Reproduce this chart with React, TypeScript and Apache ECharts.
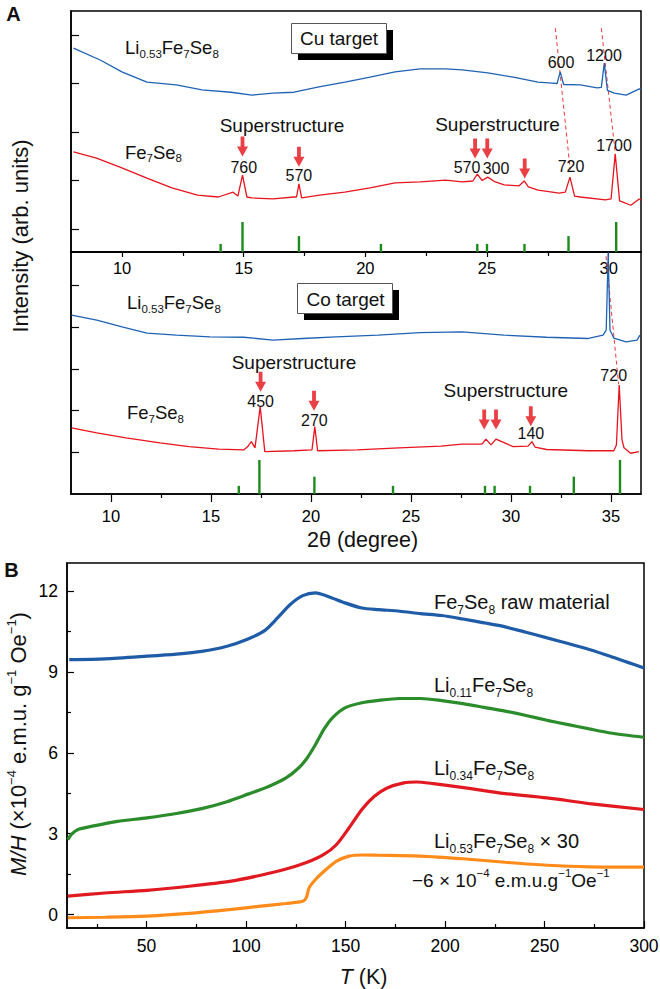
import React, { useEffect, useRef } from "react";
import * as echarts from "echarts";

// ---------- Panel A, Cu target: [2θ (deg), intensity (arb., stacked)] ----------
const cuLiCurve = [
  [8.0, 3.73], [9.12, 3.48], [9.99, 3.24], [11.02, 3.03], [12.23, 2.97], [13.28, 2.87],
  [14.47, 2.82], [15.34, 2.76], [16.2, 2.8], [17.07, 2.82], [18.09, 2.93], [19.16, 3.03],
  [20.19, 3.13], [21.22, 3.24], [22.25, 3.3], [23.3, 3.3], [23.98, 3.28], [25.03, 3.22],
  [26.08, 3.13], [27.1, 3.03], [27.68, 3.01], [27.88, 3.0], [28.01, 3.24], [28.15, 2.98],
  [28.84, 2.97], [29.53, 2.91], [29.7, 2.92], [29.82, 3.42], [29.95, 2.86], [30.23, 2.8],
  [30.72, 2.76], [31.26, 2.89], [31.33, 2.88],
];
const cuFeCurve = [
  [8.0, 1.59], [8.95, 1.46], [9.99, 1.26], [11.02, 1.05], [12.05, 0.85], [13.1, 0.7],
  [13.96, 0.66], [14.56, 0.76], [14.76, 0.68], [14.95, 1.11], [15.13, 0.66], [15.34, 0.64],
  [16.2, 0.62], [17.07, 0.66], [17.17, 0.66], [17.27, 0.93], [17.38, 0.64], [18.12, 0.7],
  [19.15, 0.76], [20.19, 0.85], [21.22, 0.95], [22.25, 0.97], [23.3, 1.01], [23.98, 0.97],
  [24.42, 0.99], [24.6, 1.13], [24.8, 1.0], [25.03, 1.07], [25.34, 0.97], [25.71, 0.91],
  [26.32, 0.89], [26.53, 0.99], [26.7, 0.87], [27.1, 0.8], [27.97, 0.74], [28.22, 0.76],
  [28.41, 1.07], [28.6, 0.68], [28.84, 0.66], [29.86, 0.6], [30.1, 0.62], [30.27, 1.55],
  [30.45, 0.58], [30.56, 0.56], [30.91, 0.49], [31.26, 0.62], [31.33, 0.6],
];
const cuStickPos = [14.05, 14.95, 17.27, 20.64, 24.6, 25.0, 26.54, 28.35, 30.31];
const cuStickInt = [27, 100, 53, 27, 27, 27, 27, 53, 100];
const cuArrows = [[14.95, 1.7], [17.27, 1.49], [24.51, 1.66], [25.01, 1.66], [26.55, 1.25]];
const cuDash1 = [[27.81, 4.14], [28.42, 1.22]];
const cuDash2 = [[29.7, 4.14], [30.27, 1.57]];
const cuTicks = [10, 15, 20, 25, 30];
const cuMinor = [12.5, 17.5, 22.5, 27.5];

// ---------- Panel A, Co target ----------
const coLiCurve = [
  [8.03, 3.29], [9.29, 3.17], [10.55, 3.01], [11.8, 2.86], [13.28, 2.81], [14.95, 2.77],
  [16.64, 2.76], [18.1, 2.69], [19.58, 2.73], [21.25, 2.77], [23.35, 2.81], [25.45, 2.87],
  [27.55, 2.89], [29.65, 2.81], [31.78, 2.76], [33.88, 2.73], [34.6, 2.81], [34.76, 2.93],
  [34.86, 4.8], [34.95, 2.93], [35.14, 2.74], [35.75, 2.65], [36.3, 2.69], [36.45, 2.81],
];
const coFeCurve = [
  [8.03, 0.58], [9.29, 0.46], [10.75, 0.34], [12.45, 0.22], [13.9, 0.13], [15.38, 0.07],
  [16.64, 0.05], [16.85, 0.14], [17.02, 0.25], [17.2, 0.1], [17.46, 1.09], [17.69, 0.01],
  [19.15, 0.03], [20.05, 0.05], [20.19, 0.61], [20.33, 0.03], [22.3, 0.05], [24.4, 0.1],
  [26.5, 0.14], [27.55, 0.19], [28.55, 0.19], [28.75, 0.31], [29.0, 0.17], [29.25, 0.31],
  [30.1, 0.13], [30.85, 0.14], [31.05, 0.25], [31.2, 0.12], [31.78, 0.06], [33.88, 0.03],
  [35.14, 0.03], [35.27, 0.17], [35.41, 1.61], [35.55, 0.29], [35.65, 0.1], [35.98, -0.03],
  [36.4, 0.01],
];
const coStickPos = [16.39, 17.42, 20.17, 24.1, 28.7, 29.18, 30.95, 33.14, 35.45];
const coStickInt = [24, 100, 51, 24, 24, 24, 24, 51, 100];
const coArrows = [[17.48, 1.69], [20.15, 1.23], [28.66, 0.78], [29.25, 0.78], [30.99, 0.86]];
const coDash = [[34.75, 4.71], [35.38, 1.63]];
const coTicks = [10, 15, 20, 25, 30, 35];
const coMinor = [12.5, 17.5, 22.5, 27.5, 32.5];

// ---------- Panel B: [T (K), M/H (1e-4 emu g^-1 Oe^-1)] ----------
const feRaw = [
  [11.1, 9.46], [29.1, 9.49], [50.2, 9.59], [65, 9.67], [77.7, 9.77], [90.4, 9.96],
  [101, 10.23], [109.5, 10.55], [115.8, 11.01], [122.2, 11.51], [128.5, 11.84], [134.9, 11.94],
  [141.2, 11.81], [149.7, 11.57], [158.2, 11.38], [166.6, 11.32], [177.2, 11.26], [187.8, 11.17],
  [198.4, 11.1], [209, 10.97], [219.6, 10.83], [230.2, 10.68], [240.7, 10.48], [251.3, 10.27],
  [261.9, 10.06], [272.5, 9.84], [283, 9.59], [291.5, 9.37], [300, 9.15],
];
const li011 = [
  [10.4, 2.78], [12.1, 2.97], [15.3, 3.15], [22.7, 3.28], [35.4, 3.46], [50.2, 3.59],
  [65, 3.75], [77.7, 3.93], [90.4, 4.19], [101, 4.47], [111.6, 4.76], [120.1, 5.07],
  [126.4, 5.44], [130.7, 5.81], [134.9, 6.31], [139.1, 6.87], [143.4, 7.3], [149.7, 7.67],
  [158.2, 7.86], [166.6, 7.95], [177.2, 8.02], [187.8, 8.02], [198.4, 7.94], [209, 7.83],
  [219.6, 7.69], [230.2, 7.55], [240.7, 7.39], [251.3, 7.21], [261.9, 7.05], [272.5, 6.89],
  [283, 6.74], [300, 6.58],
];
const li034 = [
  [10.4, 0.68], [29.1, 0.8], [50.2, 0.9], [71.4, 1.05], [92.6, 1.24], [107.4, 1.46],
  [120.1, 1.69], [130.7, 1.94], [139.1, 2.23], [145.5, 2.6], [151.8, 3.22], [158.2, 3.9],
  [164.5, 4.39], [170.9, 4.7], [179.3, 4.89], [185.7, 4.92], [194.1, 4.86], [204.7, 4.76],
  [219.6, 4.6], [230.2, 4.49], [251.3, 4.33], [272.5, 4.12], [300, 3.9],
];
const li053 = [
  [10.4, -0.12], [29.1, -0.1], [50.2, -0.06], [71.4, 0.04], [92.6, 0.19], [107.4, 0.31],
  [120.1, 0.41], [128.5, 0.49], [130.2, 0.62], [131.7, 0.99], [134.9, 1.3], [140.2, 1.67],
  [145.5, 1.98], [151.8, 2.17], [158.2, 2.21], [166.6, 2.2], [187.8, 2.17], [209, 2.07],
  [230.2, 1.94], [251.3, 1.83], [272.5, 1.77], [300, 1.76],
];
const bXTicks = [50, 100, 150, 200, 250, 300];
const bXMinor = [25, 75, 125, 175, 225, 275];
const bYTicks = [0, 3, 6, 9, 12];
const bYMinor = [1.5, 4.5, 7.5, 10.5];
const stackTicks = [0, 1, 2, 3, 4];

const FONT = "Arial, 'Liberation Sans', Helvetica, sans-serif";
const BLACK = "#111";
const BLUE_A = "#1f62b4";
const RED_A = "#e8141e";
const GREEN = "#1d8a1d";
const ARROW = "path://M3.6,0 L7.4,0 L7.4,10 L11,10 L5.5,20 L0,10 L3.6,10 Z";

function rich(main: number, sub: number, lh: number) {
  const base = { fontFamily: FONT, fill: BLACK, color: BLACK };
  return {
    n: { ...base, fontSize: main, lineHeight: lh },
    i: { ...base, fontSize: main, lineHeight: lh, fontStyle: "italic" },
    b: { ...base, fontSize: sub, lineHeight: sub, verticalAlign: "bottom" },
    p: { ...base, fontSize: sub, lineHeight: sub, verticalAlign: "top" },
  };
}

function txt(x: number, y: number, text: string, extra: any = {}) {
  return {
    type: "text", x, y, silent: true, z: 100,
    style: { text, fontSize: 19, fontFamily: FONT, fill: BLACK, align: "center", verticalAlign: "middle", ...extra },
  };
}

function chem(x: number, y: number, text: string, main: number, sub: number, lh: number, extra: any = {}) {
  return {
    type: "text", x, y, silent: true, z: 100,
    style: {
      text, rich: rich(main, sub, lh), fontSize: main, fontFamily: FONT, fill: BLACK,
      align: "left", verticalAlign: "middle", ...extra,
    },
  };
}

const LI053 = "{n|Li}{b|0.53}{n|Fe}{b|7}{n|Se}{b|8}";
const FE78 = "{n|Fe}{b|7}{n|Se}{b|8}";

const tickStyle = { color: "#000", width: 1.2 };
const labelBase = { color: "#000", fontFamily: FONT };

function hiddenAxis(gridIndex: number, min: number, max: number) {
  return { type: "value", gridIndex, min, max, show: false, splitLine: { show: false }, axisLine: { onZero: false } };
}

function tickAxis(gridIndex: number, min: number, max: number, ticks: number[], len: number, inside: boolean, labels: any, line: boolean) {
  return {
    type: "value", gridIndex, min, max,
    axisLine: { show: line, onZero: false, lineStyle: { color: "#000", width: 1.5 } },
    axisTick: { show: true, inside, length: len, customValues: ticks, lineStyle: tickStyle },
    axisLabel: labels ? { show: true, customValues: labels.values, margin: labels.margin, fontSize: labels.size, ...labelBase } : { show: false },
    splitLine: { show: false },
    minorTick: { show: false },
  };
}

function sticks(pos: number[], ints: number[]) {
  return pos.map((p, i) => [p, ints[i]]);
}

const CU_MIN = 7.9, CU_MAX = 31.33, CO_MIN = 8, CO_MAX = 36.5;

const gridBox = { show: true, borderColor: "#000", borderWidth: 1.5, backgroundColor: "transparent" };
const grids = [
  { left: 71, top: 11, width: 570, height: 241, ...gridBox },
  { left: 71, top: 222, width: 570, height: 30 },
  { left: 71, top: 252, width: 570, height: 242, ...gridBox },
  { left: 71, top: 460, width: 570, height: 34 },
  { left: 67, top: 563, width: 577, height: 365, ...gridBox },
  { left: 71, top: 11, width: 570, height: 241 },
  { left: 71, top: 252, width: 570, height: 242 },
  { left: 67, top: 563, width: 577, height: 365 },
].map((g) => ({ ...g, containLabel: false, outerBoundsMode: "none" }));

const bLine = (data: number[][], color: string) => ({
  type: "line", xAxisIndex: 4, yAxisIndex: 4, data, symbol: "none",
  smooth: 0.25, lineStyle: { color, width: 3.2 },
});

const option: any = {
  animation: false,
  backgroundColor: "#fff",
  grid: grids,
  xAxis: [
    tickAxis(0, CU_MIN, CU_MAX, cuTicks, 5, false, { values: cuTicks, margin: 7, size: 16.5 }, true),
    hiddenAxis(1, CU_MIN, CU_MAX),
    tickAxis(2, CO_MIN, CO_MAX, coTicks, 8, false, { values: coTicks, margin: 13, size: 16.5 }, true),
    hiddenAxis(3, CO_MIN, CO_MAX),
    tickAxis(4, 10, 300, bXTicks, 7, true, { values: bXTicks, margin: 9, size: 17.5 }, true),
    tickAxis(5, CU_MIN, CU_MAX, cuMinor, 4, false, null, false),
    tickAxis(6, CO_MIN, CO_MAX, coMinor, 4, false, null, false),
    tickAxis(7, 10, 300, bXMinor, 4, true, null, false),
  ],
  yAxis: [
    tickAxis(0, -0.474, 4.495, stackTicks, 8, true, null, true),
    hiddenAxis(1, 0, 100),
    tickAxis(2, -1.01, 4.81, stackTicks, 8, true, null, true),
    hiddenAxis(3, 0, 100),
    tickAxis(4, -0.5, 13.05, bYTicks, 7, true, { values: bYTicks, margin: 9, size: 17.5 }, true),
    hiddenAxis(5, 0, 1),
    hiddenAxis(6, 0, 1),
    tickAxis(7, -0.5, 13.05, bYMinor, 4, true, null, false),
  ],
  series: [
    // Cu target
    { type: "line", xAxisIndex: 0, yAxisIndex: 0, data: cuLiCurve, symbol: "none", lineStyle: { color: BLUE_A, width: 1.3 }, z: 3 },
    { type: "line", xAxisIndex: 0, yAxisIndex: 0, data: cuFeCurve, symbol: "none", lineStyle: { color: RED_A, width: 1.3 }, z: 3 },
    { type: "line", xAxisIndex: 0, yAxisIndex: 0, data: cuDash1, symbol: "none", lineStyle: { color: "#f03a3a", width: 1, type: [4, 3] }, z: 2 },
    { type: "line", xAxisIndex: 0, yAxisIndex: 0, data: cuDash2, symbol: "none", lineStyle: { color: "#f03a3a", width: 1, type: [4, 3] }, z: 2 },
    { type: "scatter", xAxisIndex: 0, yAxisIndex: 0, data: cuArrows, symbol: ARROW, symbolSize: [11, 20], itemStyle: { color: "#e31018" }, z: 4 },
    { type: "bar", xAxisIndex: 1, yAxisIndex: 1, data: sticks(cuStickPos, cuStickInt), barWidth: 2.4, itemStyle: { color: GREEN }, z: 2 },
    // Co target
    { type: "line", xAxisIndex: 2, yAxisIndex: 2, data: coLiCurve, symbol: "none", lineStyle: { color: BLUE_A, width: 1.3 }, z: 3 },
    { type: "line", xAxisIndex: 2, yAxisIndex: 2, data: coFeCurve, symbol: "none", lineStyle: { color: RED_A, width: 1.3 }, z: 3 },
    { type: "line", xAxisIndex: 2, yAxisIndex: 2, data: coDash, symbol: "none", lineStyle: { color: "#f03a3a", width: 1, type: [4, 3] }, z: 2 },
    { type: "scatter", xAxisIndex: 2, yAxisIndex: 2, data: coArrows, symbol: ARROW, symbolSize: [11, 20], itemStyle: { color: "#e31018" }, z: 4 },
    { type: "bar", xAxisIndex: 3, yAxisIndex: 3, data: sticks(coStickPos, coStickInt), barWidth: 2.4, itemStyle: { color: GREEN }, z: 2 },
    // Panel B
    bLine(feRaw, "#1f5ca8"),
    bLine(li011, "#2a8c2a"),
    bLine(li034, "#e01a20"),
    bLine(li053, "#ff8c1a"),
  ],
  graphic: [
    // panel letters
    txt(13.5, 14, "A", { fontSize: 20, fontWeight: "bold" }),
    txt(11.5, 570, "B", { fontSize: 20, fontWeight: "bold" }),
    // target boxes
    { type: "rect", silent: true, z: 90, shape: { x: 298, y: 30, width: 95, height: 30 }, style: { fill: "#000" } },
    { type: "rect", silent: true, z: 91, shape: { x: 291.5, y: 23.5, width: 95, height: 30 }, style: { fill: "#fff", stroke: "#555", lineWidth: 1 } },
    txt(339, 38.8, "Cu target", { fontSize: 19 }),
    { type: "rect", silent: true, z: 90, shape: { x: 304, y: 290, width: 95, height: 30 }, style: { fill: "#000" } },
    { type: "rect", silent: true, z: 91, shape: { x: 297.5, y: 283.5, width: 95, height: 30 }, style: { fill: "#fff", stroke: "#555", lineWidth: 1 } },
    txt(345.5, 299.3, "Co target", { fontSize: 19 }),
    // Cu panel labels
    chem(125, 47.5, LI053, 18.5, 11.5, 24),
    chem(125, 152, FE78, 18.5, 11.5, 24),
    txt(282, 125.5, "Superstructure"),
    txt(497.5, 124, "Superstructure"),
    txt(243.8, 167, "760", { fontSize: 16 }),
    txt(298.9, 175, "570", { fontSize: 16 }),
    txt(467, 167, "570", { fontSize: 16 }),
    txt(496, 168.5, "300", { fontSize: 16 }),
    txt(571, 166, "720", { fontSize: 16 }),
    txt(614, 145.5, "1700", { fontSize: 16 }),
    txt(561, 62, "600", { fontSize: 16 }),
    txt(604, 55, "1200", { fontSize: 16 }),
    // Co panel labels
    chem(127, 302.7, LI053, 18.5, 11.5, 24),
    chem(127, 412.7, FE78, 18.5, 11.5, 24),
    txt(294, 362.7, "Superstructure"),
    txt(505.8, 390, "Superstructure"),
    txt(260.6, 401.7, "450", { fontSize: 16 }),
    txt(314.4, 420, "270", { fontSize: 16 }),
    txt(530.9, 433.3, "140", { fontSize: 16 }),
    txt(613.7, 375, "720", { fontSize: 16 }),
    // A axis titles
    txt(362.6, 540, "2θ (degree)", { fontSize: 21.5 }),
    { ...txt(20, 236, "Intensity (arb. units)", { fontSize: 22 }), rotation: Math.PI / 2 },
    // B labels
    chem(434, 601.7, "{n|Fe}{b|7}{n|Se}{b|8}{n| raw material}", 20, 12, 28),
    chem(434, 685, "{n|Li}{b|0.11}{n|Fe}{b|7}{n|Se}{b|8}", 20, 12, 28),
    chem(434, 767.7, "{n|Li}{b|0.34}{n|Fe}{b|7}{n|Se}{b|8}", 20, 12, 28),
    chem(434, 840.7, "{n|Li}{b|0.53}{n|Fe}{b|7}{n|Se}{b|8}{n| × 30}", 20, 12, 28),
    chem(412, 880, "{n|−6 × 10}{p|−4}{n| e.m.u.g}{p|−1}{n|Oe}{p|−1}", 19, 11.5, 27),
    // B axis titles
    { ...chem(363.6, 976.7, "{i|T}{n| (K)}", 21.5, 13, 26, { align: "center" }) },
    {
      ...chem(18.5, 744, "{i|M/H}{n| (×10}{p|−4}{n| e.m.u. g}{p|−1}{n| Oe}{p|−1}{n|)}", 22, 13, 28, { align: "center" }),
      rotation: Math.PI / 2,
    },
  ],
};

export default function App() {
  const ref = useRef<HTMLDivElement>(null);
  useEffect(() => {
    document.body.style.margin = "0";
    const chart = echarts.init(ref.current!, null, { renderer: "svg" });
    chart.setOption(option);
    return () => chart.dispose();
  }, []);
  return <div ref={ref} style={{ width: 660, height: 989, background: "#fff" }} />;
}
